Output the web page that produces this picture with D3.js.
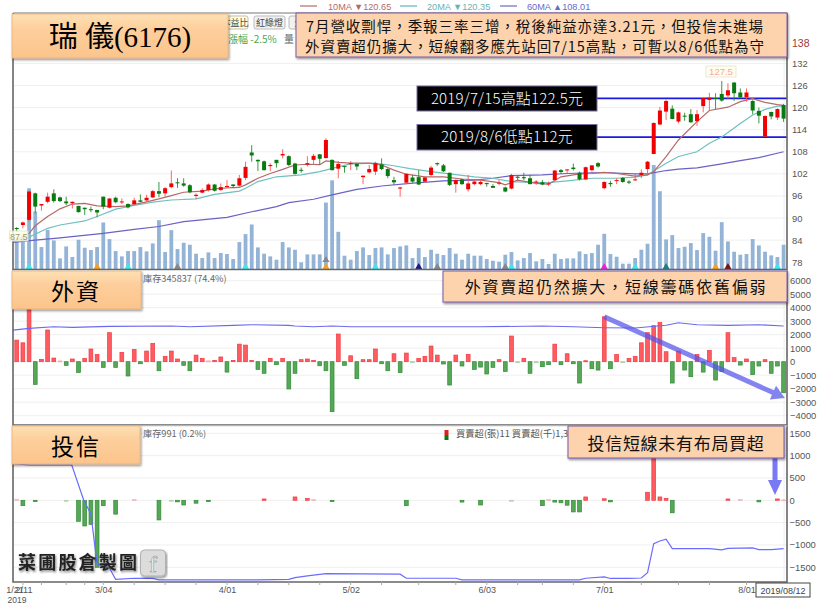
<!DOCTYPE html>
<html><head><meta charset="utf-8">
<style>html,body{margin:0;padding:0;background:#fff}svg{display:block;font-family:"Noto Sans CJK TC","Liberation Sans",sans-serif}</style>
<script src="https://d3js.org/d3.v7.min.js"></script></head><body>
<script>
const opens=[87.3,88.1,89.5,96.7,93.4,94.4,96.7,95.6,94.5,94.0,93.3,92.8,92.4,92.2,95.8,92.8,95.5,94.4,93.8,93.8,94.8,94.8,95.6,97.3,96.7,98.4,99.7,99.4,98.9,96.0,96.9,97.6,99.1,97.6,98.5,99.1,98.8,100.9,107.8,105.8,105.4,104.1,105.8,107.0,106.8,104.8,103.1,104.5,105.8,107.3,106.3,105.8,103.4,104.1,104.7,104.7,101.1,102.4,102.6,104.6,103.3,100.3,98.0,99.6,101.0,101.1,99.9,101.7,104.9,104.3,102.3,99.2,100.5,97.8,99.2,99.2,99.5,98.7,99.4,98.3,98.0,101.2,101.1,100.8,99.7,99.7,99.2,100.3,103.0,103.0,103.7,102.3,100.5,103.0,104.9,98.1,99.5,100.1,100.9,99.9,100.3,101.7,103.3,107.4,115.4,118.9,119.7,116.2,117.8,118.2,116.3,120.4,122.1,122.6,123.7,123.3,126.8,124.1,122.8,121.8,119.1,112.1,118.8,117.3,120.7];
const closes=[87.0,88.8,97.2,93.1,93.8,95.8,94.6,94.6,94.0,94.4,91.6,92.4,92.2,91.5,93.1,95.3,94.3,94.5,92.9,94.8,94.4,95.5,97.3,96.6,98.1,99.4,99.5,98.8,97.0,96.3,97.6,99.1,97.4,98.4,98.7,98.7,100.8,103.9,107.0,105.4,103.0,104.4,104.9,107.4,104.4,102.0,103.0,104.9,106.9,106.1,111.2,103.0,104.7,104.0,104.9,104.0,101.5,103.3,104.9,103.3,101.4,99.7,98.3,102.0,99.9,99.1,101.0,103.7,104.6,102.7,99.0,100.3,99.2,99.4,99.9,99.8,99.2,98.2,99.6,97.2,101.7,101.0,100.8,99.2,99.9,99.1,99.4,102.9,102.5,103.2,103.3,100.5,103.8,104.3,104.0,99.8,99.2,100.3,99.8,99.6,100.5,102.3,105.3,115.8,119.2,121.8,116.9,118.7,117.6,116.0,118.2,122.6,122.7,122.4,121.9,124.7,123.9,122.8,124.1,119.2,117.8,117.7,117.6,119.6,117.0];
const highs=[87.5,89.0,97.4,96.9,93.8,96.9,97.8,95.8,95.8,94.5,93.3,92.8,93.1,92.2,95.8,95.4,95.8,95.3,94.0,95.5,96.4,96.3,97.6,99.8,98.4,102.9,100.8,100.8,99.2,96.7,98.1,99.4,99.2,99.4,100.3,99.2,101.7,105.3,109.8,105.9,105.6,104.9,105.8,108.7,107.0,105.0,103.7,106.8,107.4,107.4,111.7,105.9,105.5,104.1,105.5,104.9,101.5,104.4,105.3,106.2,103.5,101.2,98.5,102.1,101.7,103.0,101.2,104.2,105.1,104.7,102.3,100.5,100.7,101.7,100.6,100.3,99.6,99.2,100.3,98.5,102.0,101.5,102.3,101.7,100.3,100.3,99.9,103.0,103.3,103.2,104.8,102.6,104.0,104.4,105.2,100.0,100.1,100.8,101.1,100.3,102.0,103.2,105.5,116.0,120.2,122.2,120.6,118.9,118.6,119.6,119.3,122.8,124.0,123.9,127.2,126.6,126.9,125.2,125.2,122.0,120.0,117.9,118.9,119.8,121.0];
const lows=[86.3,87.2,89.0,91.3,92.0,94.0,94.2,94.3,93.5,92.6,91.5,90.8,91.6,90.2,92.4,92.6,94.0,93.8,92.6,93.4,94.3,94.6,95.4,95.6,95.8,98.1,98.2,98.5,96.7,95.1,96.7,97.2,97.2,97.4,98.3,98.1,98.5,100.3,105.3,102.8,102.9,102.7,103.7,106.2,104.1,101.8,102.3,104.0,104.4,104.4,106.1,102.9,100.8,102.3,103.0,103.0,99.2,102.1,101.7,103.0,100.8,99.0,95.8,99.2,99.6,99.0,99.6,101.2,104.2,102.5,98.7,96.9,99.0,97.2,98.9,98.9,98.5,98.2,98.9,97.0,97.8,100.3,100.3,99.2,99.0,98.9,98.7,99.9,102.0,102.1,102.9,100.2,100.3,102.6,103.7,97.8,98.5,99.2,99.6,99.2,100.1,100.8,102.1,107.3,115.2,116.6,116.8,115.7,116.4,115.9,115.0,118.7,119.3,119.6,121.6,122.2,121.8,122.5,121.6,118.2,115.7,112.0,116.8,116.6,116.1];
const volumes=[88,98,243,173,66,118,86,32,68,36,88,64,57,66,140,90,54,38,54,54,66,53,77,147,51,117,60,79,73,46,33,50,33,48,45,30,81,105,134,65,46,38,28,81,65,58,20,44,44,44,200,267,112,40,28,54,65,42,63,65,44,63,68,71,33,63,36,58,46,42,63,46,28,46,40,40,30,25,22,43,51,26,33,48,23,30,15,46,30,32,32,53,45,48,73,106,45,37,16,16,33,58,76,313,234,89,102,63,67,78,57,108,97,55,141,83,52,43,45,90,71,52,41,36,73];
const ma10Idx=[-0.6,2,3,5,7,9,11,13,16,18,21,23,25,27,30,32,34,36,37,39,41,43,45,47,49,50,52,54,57,59,61,63,66,69,72,75,78,79,81,84,86,88,91,93,95,97,100,102,103,105,107,110,112,115,117,119,121,123,124];
const ma10Val=[83.6,85.85,87.9,90.4,92.5,93.8,94.0,93.3,93.1,93.3,94.4,95.2,96.1,97.0,97.3,97.9,98.2,98.3,99,100.8,102.1,103.2,104.4,104.6,104.5,105.5,105.1,104.9,104.9,104.4,103.0,101.9,101.2,101.2,100.6,100.3,99.6,99,100.3,99.4,99.2,101.2,102,102.1,102.4,102.1,101.4,101.7,102.6,106.7,111.2,116.2,119.2,120.1,121.6,122.4,121.4,120.8,120.6];
const ma20Idx=[-0.6,2,5,7,11,13,16,19,22,25,29,32,36,37,39,42,46,49,51,54,58,61,63.6,67,70,74,77,80,83,86,89,93,97,100,102,105,107,110,112,114,117,119,121,123,124];
const ma20Val=[83.9,84.8,87.2,88.1,89.2,90.4,92.4,93.4,94.3,94.9,95.2,96.4,97.3,98.1,99.9,101.2,101.7,102.6,103.5,104.7,104.9,104.2,103.4,102.6,102,101.2,100.8,99.9,99.7,99.6,100.1,100.8,100.8,101.1,101.7,104.9,106.7,108.0,110.3,112,115.7,118,119.5,120.4,120.4];
const ma60Idx=[-0.6,3,7,14,19,23,27,34,38,42,44,48,51,55,59,63.6,69,74,77,80,85,89,93,96,100,102,105,107,110,114,117,120,124];
const ma60Val=[83.4,84,84.6,85.85,86.9,87.7,89,90.2,91.7,93.1,94.2,95.1,96.3,97.8,98.7,99.4,100.1,100.3,100.8,101.5,101.7,102.1,102.3,102.3,102,102,102.9,103.3,103.6,104.7,105.6,106.4,108];
const priceTicks=[78,84,90,96,102,108,114,120,126,132];
const keyLevels=[122.5,112];
const foreignNet=[1600,1400,4200,-1680,170,2350,270,60,-270,200,-800,250,940,540,-420,2150,-420,690,-1060,910,-150,790,1360,-670,400,790,200,-270,-670,490,250,60,100,350,-770,100,1300,1230,100,-570,-860,250,-220,250,-2020,-860,150,200,100,-300,-670,-3700,2050,-270,440,-1260,150,150,940,-150,-670,590,-810,640,-50,250,400,1160,490,-170,-1730,490,-320,540,-570,-400,-910,-420,150,-720,1900,-50,250,-860,-50,-370,-220,1300,-220,590,-150,-1580,70,-520,-620,3330,-520,540,-50,250,400,1400,2150,2670,2900,740,-1580,790,-620,-1110,540,-770,840,-1360,-720,2150,300,-250,200,-960,-320,150,-860,-320,-2300];
const foreignLineIdx=[-0.6,2,6,9,15,25,28,35,38,44,45,48,51,54,63,65,75,85,90,95,100,105,107,110,115,120,124];
const foreignLineVal=[2340,2470,2590,2540,2620,2640,2590,2690,2740,2690,2640,2590,2640,2590,2590,2590,2590,2640,2590,2520,2500,2700,2880,2740,2690,2740,2640];
const foreignTicks=[-4000,-3000,-2000,-1000,0,1000,2000,3000,4000,5000,6000];
const trustIdx=[0,1,3,8,10,11,12,13,14,16,19,23,25,26,27,29,31,40,45,47,48,51,63,72,75,80,85,86,87,88,89,90,91,92,95,96,102,103,104,105,106,115,117,120,123,124];
const trustNet=[25,-120,-30,-10,-470,-575,-540,-1500,-120,-310,20,-440,-10,-35,-105,-65,-30,30,75,40,15,-30,-120,-40,-105,-15,-120,15,-40,-55,-110,-260,-260,75,35,-35,180,1000,75,45,-280,30,15,-35,30,10];
const trustLineIdx=[-0.6,2,8.9,10.8,12,13,15,16,19,22,23,39,44,45,47,50,62,63,71,72,91,92,95,96,99,101,102,103,104,105,106,112,114,115,119,120,122,124];
const trustLineVal=[820,790,790,20,-310,-1430,-1520,-1770,-1745,-1750,-1780,-1780,-1770,-1730,-1690,-1640,-1655,-1745,-1745,-1780,-1780,-1745,-1715,-1750,-1750,-1740,-1620,-970,-910,-870,-1080,-1080,-1110,-1075,-1067,-1105,-1105,-1080];
const trustTicks=[-1500,-1000,-500,0,500,1000,1500];
const dateTickIdx=[-0.35,1.1,14,34,54,76,95,118];
const dateTickLabels=["1/21","2/11","3/04","4/01","5/02","6/03","7/01","8/01"];
const minorTickIdx=[1,4,8,11,14,19,24,29,34,39,44,49,54,59,65,71,76,81,85,90,95,101,107,112,118];
const flagIdx=[2,13,18,26,37,50,50,58,65,68,79,80,95,100,105,113,115,123];
const flagColors=["#3fe6f0","#f5a020","#3fe6f0","#888","#3fe6f0","#f5a020","#888","#3fe6f0","#1a1a80","#888","#888","#3fe6f0","#f020e0","#3fe6f0","#178080","#f5a020","#801010","#3fe6f0"];
const legendItems=[["10MA ▼120.65","#b46a6a"],["20MA ▼120.35","#5fb5b5"],["60MA ▲108.01","#6a6ac8"]];

const W=820,H=606;
const svg=d3.select("body").append("svg").attr("width",W).attr("height",H);
const defs=svg.append("defs");
const g1=defs.append("linearGradient").attr("id","og").attr("x1",0).attr("y1",0).attr("x2",0).attr("y2",1);
g1.append("stop").attr("offset",0).attr("stop-color","#fee0b4");
g1.append("stop").attr("offset",.35).attr("stop-color","#fdcf9c");
g1.append("stop").attr("offset",1).attr("stop-color","#fcc48c");
const sh=defs.append("filter").attr("id","sh").attr("x","-5%").attr("y","-10%").attr("width","112%").attr("height","130%");
sh.append("feDropShadow").attr("dx",1).attr("dy",1.5).attr("stdDeviation",1).attr("flood-color","#000").attr("flood-opacity",.45);
const ts=defs.append("filter").attr("id","ts").attr("x","-10%").attr("y","-20%").attr("width","120%").attr("height","150%");
ts.append("feDropShadow").attr("dx",1).attr("dy",1.5).attr("stdDeviation",1.2).attr("flood-color","#000").attr("flood-opacity",.5);

const x=d3.scaleLinear().domain([0,124]).range([16.7,783.6]);
const yP=d3.scaleLinear().domain([78,132]).range([262.2,63.4]);
const yV=d3.scaleLinear().domain([0,313]).range([269,165]);
const yF=d3.scaleLinear().domain([0,6000]).range([361.7,280.7]);
const yT=d3.scaleLinear().domain([-1500,1500]).range([567.3,433.3]);
const L=13,R=787;
const panels=[[13,269.5],[270.5,425],[426,582]];

function grid(ticks,y){svg.append("g").selectAll("line").data(ticks).join("line")
  .attr("x1",L).attr("x2",R).attr("y1",d=>y(d)).attr("y2",d=>y(d)).attr("stroke","#efefef").attr("stroke-width",1);}
grid(priceTicks,yP);grid(foreignTicks,yF);grid(trustTicks,yT);
svg.append("line").attr("x1",x(124)+.5).attr("x2",x(124)+.5).attr("y1",13).attr("y2",582).attr("stroke","#eee");

// volume
svg.append("g").selectAll("rect").data(volumes).join("rect")
 .attr("x",(d,i)=>x(i)-1.9).attr("width",3.8).attr("y",d=>yV(d)).attr("height",d=>yV(0)-yV(d)).attr("fill","#93b4d6");
// flags
svg.append("g").selectAll("path").data(flagIdx).join("path")
 .attr("d",d3.symbol(d3.symbolTriangle,22)).attr("transform",(d,i)=>`translate(${x(d)},${i===6?260:267})`).attr("fill",(d,i)=>flagColors[i]);

// key levels
svg.append("g").selectAll("line").data(keyLevels).join("line")
 .attr("x1",590).attr("x2",R).attr("y1",d=>yP(d)).attr("y2",d=>yP(d)).attr("stroke","#1a1ae0").attr("stroke-width",1.8);

// MA lines
function poly(idx,val,y,color,w){
 const ln=d3.line().x(d=>x(d[0])).y(d=>y(d[1]));
 svg.append("path").datum(d3.zip(idx,val)).attr("d",ln).attr("fill","none").attr("stroke",color).attr("stroke-width",w);
}
poly(ma60Idx,ma60Val,yP,"#6a62c4",1.2);
poly(ma20Idx,ma20Val,yP,"#6fc0c0",1.2);
poly(ma10Idx,ma10Val,yP,"#b56a6a",1.2);

// candles
const candle=svg.append("g").selectAll("g").data(opens).join("g");
const cc=i=>closes[i]>=opens[i]?"#f00000":"#087a10";
candle.append("line").attr("x1",(d,i)=>x(i)).attr("x2",(d,i)=>x(i)).attr("y1",(d,i)=>yP(highs[i])).attr("y2",(d,i)=>yP(lows[i]))
 .attr("stroke",(d,i)=>closes[i]>=opens[i]?"#f55":"#2a8a30").attr("stroke-width",.9);
candle.append("rect").attr("x",(d,i)=>x(i)-2).attr("width",4)
 .attr("y",(d,i)=>yP(Math.max(opens[i],closes[i])))
 .attr("height",(d,i)=>Math.max(1,Math.abs(yP(opens[i])-yP(closes[i])))).attr("fill",(d,i)=>cc(i));

// net bars
function netBars(vals,idxs,y){
 svg.append("g").selectAll("rect").data(vals).join("rect")
  .attr("x",(d,i)=>x(idxs?idxs[i]:i)-1.9).attr("width",3.8)
  .attr("y",d=>Math.min(y(d),y(0))).attr("height",d=>Math.max(1,Math.abs(y(d)-y(0))))
  .attr("fill",d=>d>=0?"#ff5c62":"#56a856").attr("stroke",d=>d>=0?"#f03a40":"#2f8a35").attr("stroke-width",.7)
  .attr("opacity",d=>Math.abs(d)<=25?.35:(Math.abs(d)<=60&&!idxs?.4:1));
}
netBars(foreignNet,null,yF);
poly(foreignLineIdx,foreignLineVal,yF,"#6a6af0",1.1);
netBars(trustNet,trustIdx,yT);
poly(trustLineIdx,trustLineVal,yT,"#6a6cff",1.2);

// frames
panels.forEach(p=>{
 svg.append("path").attr("d",`M${L},${p[0]}V${p[1]}H${R}V${p[0]}`).attr("fill","none").attr("stroke","#666").attr("stroke-width",1.6);
});
svg.append("line").attr("x1",L).attr("x2",R).attr("y1",13).attr("y2",13).attr("stroke","#777").attr("stroke-width",1);
svg.append("line").attr("x1",L).attr("x2",R).attr("y1",270.5).attr("y2",270.5).attr("stroke","#ddd");
svg.append("line").attr("x1",L).attr("x2",R).attr("y1",426).attr("y2",426).attr("stroke","#ddd");

// axes
function rAxis(y,ticks,dx){
 const a=svg.append("g").attr("transform",`translate(${R+dx},0)`).call(d3.axisRight(y).tickValues(ticks).tickSize(0).tickPadding(0).tickFormat(d3.format("d")));
 a.select(".domain").remove();
 a.selectAll("text").attr("font-size",9.4).attr("fill","#555").attr("font-family","Liberation Sans");
}
rAxis(yP,priceTicks,5);rAxis(yF,foreignTicks,3);rAxis(yT,trustTicks,2.5);
svg.append("text").attr("x",792).attr("y",47).attr("font-size",10.5).attr("fill","#a03a3a").attr("font-family","Liberation Sans").text("138");

const xa=svg.append("g").attr("transform","translate(0,582)").call(d3.axisBottom(x).tickValues(dateTickIdx).tickSize(0).tickPadding(5).tickFormat((d,i)=>dateTickLabels[i]));
xa.select(".domain").remove();
xa.selectAll("text").attr("font-size",9).attr("fill","#555").attr("font-family","Liberation Sans");
svg.append("g").selectAll("line").data(minorTickIdx).join("line").attr("x1",d=>x(d)).attr("x2",d=>x(d)).attr("y1",582).attr("y2",585).attr("stroke","#aaa");
svg.append("text").attr("x",7.5).attr("y",603).attr("font-size",8.5).attr("fill","#555").attr("font-family","Liberation Sans").text("2019");

// top legend
[[300,328],[400,427],[500,527]].forEach((p,i)=>{
 svg.append("line").attr("x1",p[0]).attr("x2",p[0]+17).attr("y1",6).attr("y2",6).attr("stroke",legendItems[i][1]).attr("stroke-width",1.2);
 svg.append("text").attr("x",p[1]).attr("y",9.5).attr("font-size",9.2).attr("fill",legendItems[i][1]).attr("font-family","Liberation Sans, Noto Sans CJK TC").text(legendItems[i][0]);
});
// toolbar buttons
[[222,26,"本益比","#ffffd8"],[254,31,"紅綠燈","#f2f2f2"],[289,20,"外","#f2f2f2"]].forEach(b=>{
 svg.append("rect").attr("x",b[0]).attr("y",16).attr("width",b[1]).attr("height",13).attr("rx",2).attr("fill",b[3]).attr("stroke","#bbb");
 svg.append("text").attr("x",b[0]+b[1]/2).attr("y",26).attr("text-anchor","middle").attr("font-size",9).attr("fill","#444").text(b[2]);
});
svg.append("text").attr("x",228).attr("y",43).attr("font-size",10).attr("fill","#4aa84a").text("漲幅 -2.5%");
svg.append("text").attr("x",284).attr("y",43).attr("font-size",10).attr("fill","#666").text("量");
svg.append("text").attr("x",143).attr("y",281.5).attr("font-size",9.2).attr("fill","#666").text("庫存345837 (74.4%)");
svg.append("text").attr("x",143).attr("y",437).attr("font-size",9.2).attr("fill","#666").text("庫存991 (0.2%)");
svg.append("rect").attr("x",444.5).attr("y",430).attr("width",4).attr("height",5).attr("fill","#e02020");
svg.append("rect").attr("x",444.5).attr("y",435).attr("width",4).attr("height",5).attr("fill","#0a7a10");
svg.append("text").attr("x",456).attr("y",437).attr("font-size",9.3).attr("fill","#555").text("買賣超(張)11 買賣超(千)1,30");

// price callouts
function callout(bx,by,bw,bh,txt,col,fs,tx,ty){
 svg.append("rect").attr("x",bx).attr("y",by).attr("width",bw).attr("height",bh).attr("fill","#fffde8").attr("stroke","#e6e6d0").attr("opacity",.85);
 svg.append("text").attr("x",tx).attr("y",ty).attr("text-anchor","middle").attr("font-size",fs).attr("fill",col).attr("font-family","Liberation Sans").text(txt);
}
callout(706,66,30,11,"127.5","#f5a8a8",9.5,721,75);
callout(9.5,231,18.5,10,"87.5","#9a9a70",9,18.7,239.5);

// arrows
function arrow(x1,y1,x2,y2,w,hw,hl,col){
 const a=Math.atan2(y2-y1,x2-x1),c=Math.cos(a),s=Math.sin(a);
 const bx=x2-c*hl,by=y2-s*hl;
 const pts=[[x1-s*w/2,y1+c*w/2],[x1+s*w/2,y1-c*w/2],[bx+s*w/2,by-c*w/2],[bx+s*hw/2,by-c*hw/2],[x2,y2],[bx-s*hw/2,by+c*hw/2],[bx-s*w/2,by+c*w/2]];
 svg.append("polygon").attr("points",pts.map(p=>p.join(",")).join(" ")).attr("fill",col);
}
arrow(x(95),yF(3330),x(124.2),yF(-2680),5,15,13,"rgba(85,85,235,.72)");
arrow(775,457,775,495,5,14,15,"rgba(110,110,245,.92)");

// black labels
[[417,86,180,25,"2019/7/15高點122.5元",507],[417,124.5,180,25.5,"2019/8/6低點112元",507]].forEach(b=>{
 svg.append("rect").attr("x",b[0]).attr("y",b[1]).attr("width",b[2]).attr("height",b[3]).attr("fill","#000").attr("stroke","#7a6aa0").attr("stroke-width",1);
 svg.append("text").attr("x",b[5]).attr("y",b[1]+b[3]/2+5.2).attr("text-anchor","middle").attr("font-size",15).attr("font-weight",300).attr("letter-spacing",.2).attr("fill","#fff").text(b[4]);
});

// title tabs
function tab(bx,by,bw,bh,txt,fs,ty,ls,cx){
 svg.append("rect").attr("x",bx).attr("y",by).attr("width",bw).attr("height",bh).attr("fill","url(#og)").attr("stroke","#e8b27a").attr("stroke-width",.8).attr("filter","url(#sh)");
 svg.append("text").attr("x",cx).attr("y",ty).attr("text-anchor","middle").attr("font-size",fs).attr("letter-spacing",ls).attr("fill","#000").attr("font-family","Liberation Serif, Noto Sans CJK TC").text(txt);
}
tab(12,14,216,44,"瑞 儀(6176)",29,47,0,120);
tab(12,271,129,38,"外資",23,300,2,76);
tab(12,426,128,38,"投信",23,455,2,76);

// peach notes
function note(bx,by,bw,bh,lines,fs,ls,anchorX){
 svg.append("rect").attr("x",bx).attr("y",by).attr("width",bw).attr("height",bh).attr("fill","#fdd3ae").attr("stroke","#7a5aa8").attr("stroke-width",1).attr("filter","url(#sh)");
 lines.forEach(l=>svg.append("text").attr("x",anchorX).attr("y",l[1]).attr("text-anchor","middle").attr("font-size",fs).attr("letter-spacing",ls).attr("fill","#111").text(l[0]));
}
note(296,13,491,44,[["7月營收剽悍，季報三率三增，稅後純益亦達3.21元，但投信未進場",32],["外資賣超仍擴大，短線翻多應先站回7/15高點，可暫以8/6低點為守",52]],14.5,.95,535);
note(443,271,344,31,[["外資賣超仍然擴大，短線籌碼依舊偏弱",292.5]],16,1.8,616);
note(568,426,216,32,[["投信短線未有布局買超",449.5]],17,.7,676);

// watermark
svg.append("text").attr("x",18).attr("y",569).attr("font-size",18).attr("font-weight",700).attr("letter-spacing",2.2).attr("fill","#222").attr("filter","url(#ts)").text("菜圃股倉製圖");
svg.append("rect").attr("x",140.5).attr("y",550).attr("width",25).attr("height",26).attr("rx",4).attr("fill","#dcdcdc").attr("stroke","#b0b0b0").attr("filter","url(#sh)");
svg.append("text").attr("x",153).attr("y",572).attr("text-anchor","middle").attr("font-size",24).attr("fill","#f4f4f4").attr("stroke","#999").attr("stroke-width",.6).attr("font-family","Liberation Serif").text("f");

// date box
svg.append("rect").attr("x",756).attr("y",583).attr("width",54).attr("height",14).attr("fill","#fff").attr("stroke","#444");
svg.append("text").attr("x",783).attr("y",593.5).attr("text-anchor","middle").attr("font-size",9).attr("fill","#444").attr("font-family","Liberation Sans").text("2019/08/12");
</script></body></html>
